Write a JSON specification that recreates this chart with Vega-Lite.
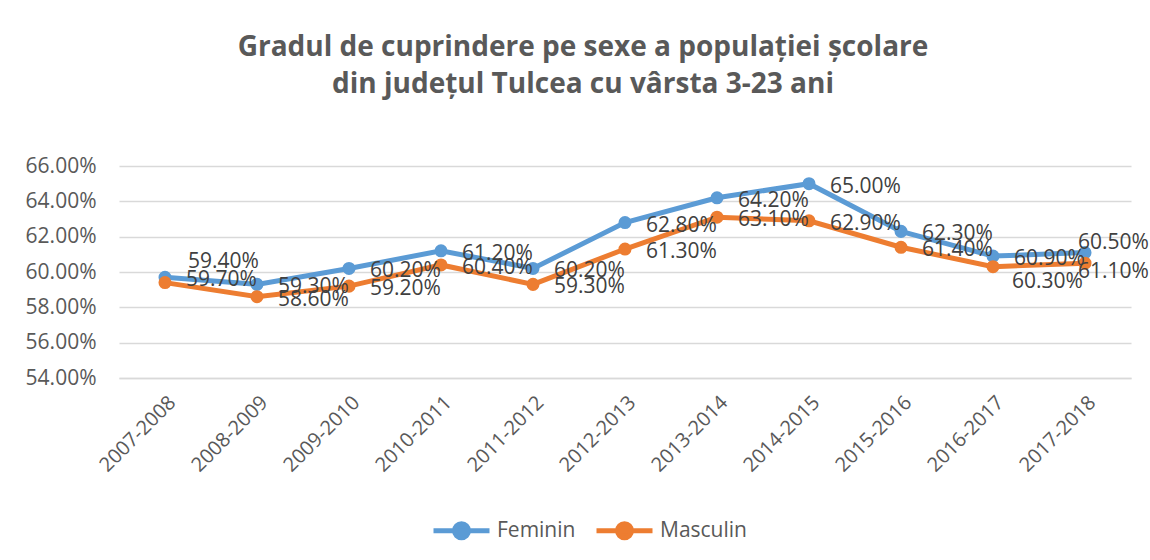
{
  "$schema": "https://vega.github.io/schema/vega-lite/v6.json",
  "autosize": {"type": "none"},
  "padding": {"left": 119, "top": 166, "right": 19, "bottom": 182},
  "width": 1012,
  "height": 212,
  "background": "white",
  "title": {
    "text": ["Gradul de cuprindere pe sexe a populației școlare", "din județul Tulcea cu vârsta 3-23 ani"],
    "font": "Open Sans",
    "fontSize": 28,
    "fontWeight": "bold",
    "color": "#595959",
    "anchor": "middle",
    "dx": -42,
    "offset": 56,
    "lineHeight": 37
  },
  "config": {
    "view": {"stroke": null},
    "font": "Open Sans",
    "axis": {"labelFont": "Open Sans", "labelColor": "#595959", "labelFontSize": 21, "gridColor": "#d9d9d9", "gridWidth": 1.5, "ticks": false, "title": null},
    "legend": {"labelFont": "Open Sans", "labelFontSize": 21, "labelColor": "#595959"}
  },
  "data": {
    "values": [
      {"period": "2007-2008", "series": "Feminin", "value": 0.597},
      {"period": "2008-2009", "series": "Feminin", "value": 0.593},
      {"period": "2009-2010", "series": "Feminin", "value": 0.602},
      {"period": "2010-2011", "series": "Feminin", "value": 0.612},
      {"period": "2011-2012", "series": "Feminin", "value": 0.602},
      {"period": "2012-2013", "series": "Feminin", "value": 0.628},
      {"period": "2013-2014", "series": "Feminin", "value": 0.642},
      {"period": "2014-2015", "series": "Feminin", "value": 0.650},
      {"period": "2015-2016", "series": "Feminin", "value": 0.623},
      {"period": "2016-2017", "series": "Feminin", "value": 0.609},
      {"period": "2017-2018", "series": "Feminin", "value": 0.611},
      {"period": "2007-2008", "series": "Masculin", "value": 0.594},
      {"period": "2008-2009", "series": "Masculin", "value": 0.586},
      {"period": "2009-2010", "series": "Masculin", "value": 0.592},
      {"period": "2010-2011", "series": "Masculin", "value": 0.604},
      {"period": "2011-2012", "series": "Masculin", "value": 0.593},
      {"period": "2012-2013", "series": "Masculin", "value": 0.613},
      {"period": "2013-2014", "series": "Masculin", "value": 0.631},
      {"period": "2014-2015", "series": "Masculin", "value": 0.629},
      {"period": "2015-2016", "series": "Masculin", "value": 0.614},
      {"period": "2016-2017", "series": "Masculin", "value": 0.603},
      {"period": "2017-2018", "series": "Masculin", "value": 0.605}
    ]
  },
  "encoding": {
    "x": {
      "field": "period", "type": "ordinal", "sort": null,
      "scale": {"type": "point", "padding": 0.5},
      "axis": {"labelAngle": -45, "labelAlign": "right", "labelBaseline": "top", "labelPadding": 14, "domainColor": "#d9d9d9", "domainWidth": 1.5, "grid": false, "labelFontSize": 20}
    },
    "y": {
      "field": "value", "type": "quantitative",
      "scale": {"domain": [0.54, 0.66], "nice": false, "zero": false},
      "axis": {"values": [0.54, 0.56, 0.58, 0.6, 0.62, 0.64, 0.66], "format": ".2%", "domain": false, "labelPadding": 23}
    }
  },
  "layer": [
    {
      "mark": {"type": "line", "strokeWidth": 5, "point": {"filled": true, "size": 170, "opacity": 1}},
      "encoding": {
        "color": {
          "field": "series", "type": "nominal",
          "scale": {"domain": ["Feminin", "Masculin"], "range": ["#5B9BD5", "#ED7D31"]},
          "legend": {
            "title": null, "orient": "none", "direction": "horizontal", "legendX": 326, "legendY": 348,
            "symbolType": "M-2,0L2,0M-0.5,0A0.5,0.5 0 1,1 0.5,0A0.5,0.5 0 1,1 -0.5,0Z",
            "symbolSize": 784, "symbolStrokeWidth": 5, "columnPadding": 10, "labelOffset": 19
          }
        }
      }
    },
    {
      "transform": [{"filter": "!(datum.series == 'Feminin' && datum.period == '2017-2018') && !(datum.series == 'Masculin' && (datum.period == '2007-2008' || datum.period == '2016-2017' || datum.period == '2017-2018'))"}],
      "mark": {"type": "text", "align": "left", "baseline": "middle", "dx": 21, "dy": 3, "fontSize": 21, "color": "#404040", "font": "Open Sans"},
      "encoding": {"text": {"field": "value", "type": "quantitative", "format": ".2%"}}
    },
    {
      "transform": [{"filter": "datum.series == 'Masculin' && datum.period == '2007-2008'"}],
      "mark": {"type": "text", "align": "left", "baseline": "middle", "dx": 23, "dy": -21, "fontSize": 21, "color": "#404040", "font": "Open Sans"},
      "encoding": {"text": {"field": "value", "type": "quantitative", "format": ".2%"}}
    },
    {
      "transform": [{"filter": "datum.series == 'Masculin' && datum.period == '2016-2017'"}],
      "mark": {"type": "text", "align": "left", "baseline": "middle", "dx": 19, "dy": 15, "fontSize": 21, "color": "#404040", "font": "Open Sans"},
      "encoding": {"text": {"field": "value", "type": "quantitative", "format": ".2%"}}
    },
    {
      "transform": [{"filter": "datum.series == 'Feminin' && datum.period == '2017-2018'"}],
      "mark": {"type": "text", "align": "left", "baseline": "middle", "dx": -7, "dy": 19, "fontSize": 21, "color": "#404040", "font": "Open Sans"},
      "encoding": {"text": {"field": "value", "type": "quantitative", "format": ".2%"}}
    },
    {
      "transform": [{"filter": "datum.series == 'Masculin' && datum.period == '2017-2018'"}],
      "mark": {"type": "text", "align": "left", "baseline": "middle", "dx": -7, "dy": -20, "fontSize": 21, "color": "#404040", "font": "Open Sans"},
      "encoding": {"text": {"field": "value", "type": "quantitative", "format": ".2%"}}
    }
  ]
}
